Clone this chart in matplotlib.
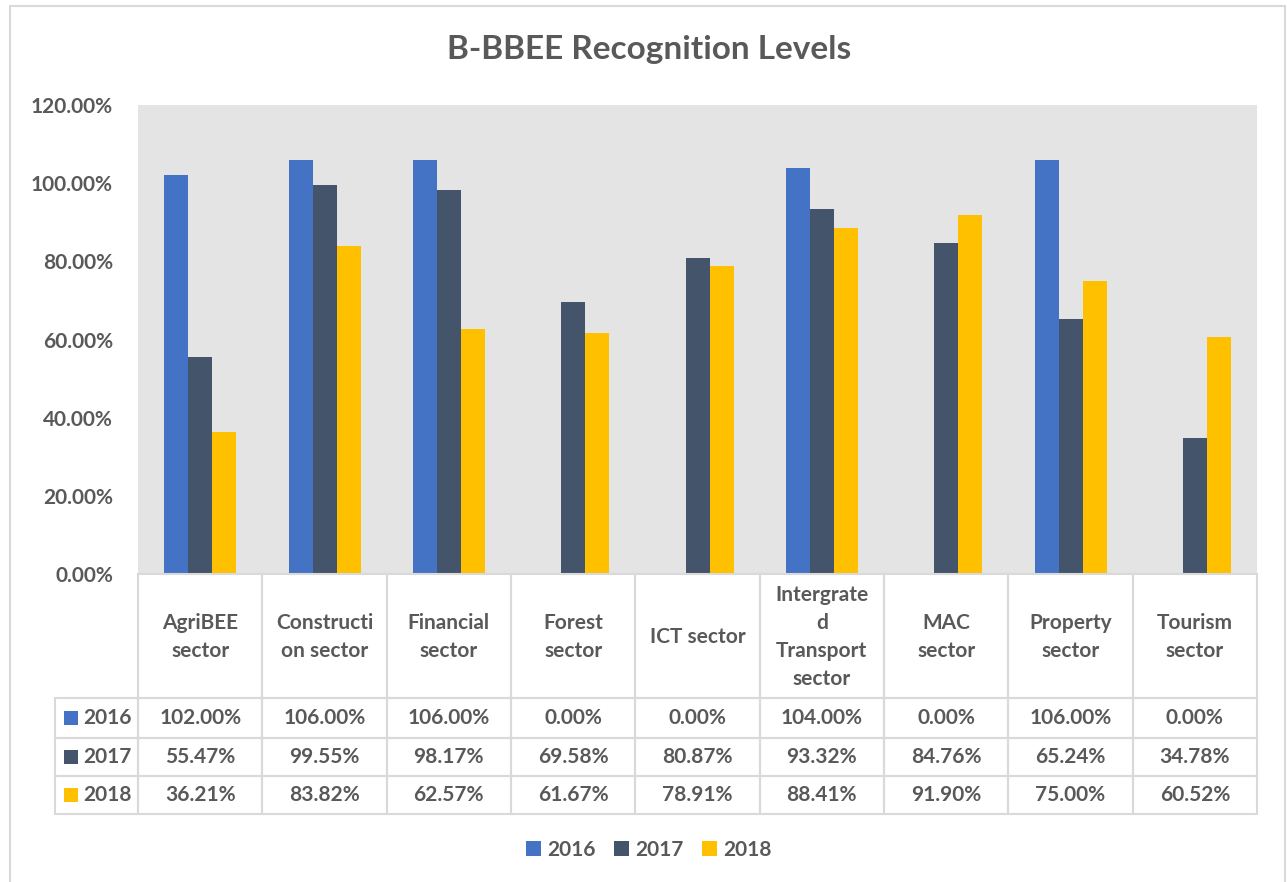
import matplotlib
matplotlib.use("Agg")
import matplotlib.pyplot as plt
from matplotlib.patches import Rectangle
import numpy as np

categories = ["AgriBEE\nsector", "Constructi\non sector", "Financial\nsector",
              "Forest\nsector", "ICT sector", "Intergrate\nd\nTransport\nsector",
              "MAC\nsector", "Property\nsector", "Tourism\nsector"]
series_names = ["2016", "2017", "2018"]
v2016 = [1.02, 1.06, 1.06, 0.0, 0.0, 1.04, 0.0, 1.06, 0.0]
v2017 = [0.5547, 0.9955, 0.9817, 0.6958, 0.8087, 0.9332, 0.8476, 0.6524, 0.3478]
v2018 = [0.3621, 0.8382, 0.6257, 0.6167, 0.7891, 0.8841, 0.9190, 0.7500, 0.6052]
colors = ["#4472C4", "#44546A", "#FFC000"]
yticks = [0, 0.2, 0.4, 0.6, 0.8, 1.0, 1.2]
title = "B-BBEE Recognition Levels"

plt.rcParams['font.family'] = ['Lato', 'DejaVu Sans']
TXT = "#595959"
FS = 15

W, H = 1287, 882
fig = plt.figure(figsize=(W / 100, H / 100), dpi=100)

# outer chart border
fig.patches.append(Rectangle((10 / W, -0.05), (1285 - 10) / W, (H - 6) / H + 0.05,
                             transform=fig.transFigure, fill=False,
                             edgecolor="#d9d9d9", linewidth=1.5))

L, R, T, B = 138, 1257, 105, 574
ax = fig.add_axes([L / W, (H - B) / H, (R - L) / W, (B - T) / H])
ax.set_facecolor("#E4E4E4")

n = len(categories)
x = np.arange(n)
bw = 24 / ((R - L) / n)
series = [v2016, v2017, v2018]
handles = []
for k, (vals, c, name) in enumerate(zip(series, colors, series_names)):
    h = ax.bar(x + (k - 1) * bw, vals, width=bw, color=c, label=name, zorder=2)
    handles.append(h)

ax.set_xlim(-0.5, n - 0.5)
ax.set_ylim(0, 1.2)
ax.set_yticks(yticks)
ax.set_yticklabels([f"{t * 100:.2f}%" for t in yticks], fontsize=FS,
                   fontweight="bold", color=TXT)
ax.tick_params(axis="y", length=0, pad=18)
ax.set_xticks([])
for s in ax.spines.values():
    s.set_visible(False)

fig.text(649 / W, 1 - 50 / H, title, ha="center", va="center",
         fontsize=24, fontweight="bold", color=TXT)

# data table
def fx(px):
    return px / W

def fy(py):
    return 1 - py / H

col_w = (R - L) / n
edge = "#d9d9d9"
lw = 1.5
head_top, head_bot = B, 698
row_edges = [698, 738, 776, 814]
label_left = 55

# header cells
for i, cat in enumerate(categories):
    x0 = L + i * col_w
    fig.patches.append(Rectangle((fx(x0), fy(head_bot)), col_w / W, (head_bot - head_top) / H,
                                 transform=fig.transFigure, fill=False,
                                 edgecolor=edge, linewidth=lw))
    fig.text(fx(x0 + col_w / 2), fy((head_top + head_bot) / 2 + 1), cat, ha="center",
             va="center", fontsize=FS, fontweight="bold", color=TXT, linespacing=1.5)

# data rows
for r, (vals, c, name) in enumerate(zip(series, colors, series_names)):
    y0, y1 = row_edges[r], row_edges[r + 1]
    yc = (y0 + y1) / 2
    fig.patches.append(Rectangle((fx(label_left), fy(y1)), (L - label_left) / W, (y1 - y0) / H,
                                 transform=fig.transFigure, fill=False,
                                 edgecolor=edge, linewidth=lw))
    fig.patches.append(Rectangle((fx(64), fy(yc + 7)), 14 / W, 14 / H,
                                 transform=fig.transFigure, facecolor=c, edgecolor="none"))
    fig.text(fx(107), fy(yc), name, ha="center", va="center", fontsize=FS,
             fontweight="bold", color=TXT)
    for i, v in enumerate(vals):
        x0 = L + i * col_w
        fig.patches.append(Rectangle((fx(x0), fy(y1)), col_w / W, (y1 - y0) / H,
                                     transform=fig.transFigure, fill=False,
                                     edgecolor=edge, linewidth=lw))
        fig.text(fx(x0 + col_w / 2), fy(yc), f"{v * 100:.2f}%", ha="center",
                 va="center", fontsize=FS, fontweight="bold", color=TXT)

leg = fig.legend(handles=handles, labels=series_names, loc="center",
                 bbox_to_anchor=(649 / W, fy(850)), ncol=3, frameon=False,
                 handlelength=0.7, handleheight=0.7, handletextpad=0.3,
                 columnspacing=0.9, prop={"size": FS, "weight": "bold"})
for t in leg.get_texts():
    t.set_color(TXT)

fig.savefig("out.png", dpi=100)
